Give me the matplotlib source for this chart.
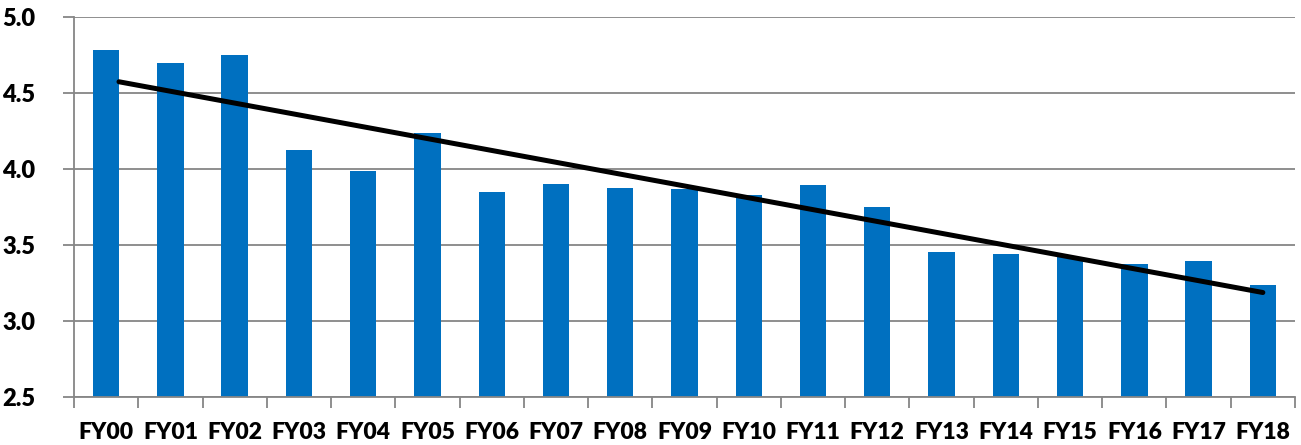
import numpy as np
import matplotlib
matplotlib.use("Agg")
import matplotlib.pyplot as plt

years = ["FY00", "FY01", "FY02", "FY03", "FY04", "FY05", "FY06", "FY07", "FY08", "FY09",
         "FY10", "FY11", "FY12", "FY13", "FY14", "FY15", "FY16", "FY17", "FY18"]
values = [4.78, 4.70, 4.75, 4.125, 3.99, 4.24, 3.85, 3.90, 3.875, 3.87,
          3.83, 3.895, 3.75, 3.455, 3.44, 3.42, 3.375, 3.395, 3.24]
y_ticks = [2.5, 3.0, 3.5, 4.0, 4.5, 5.0]

plt.rcParams["font.family"] = ["Lato", "DejaVu Sans"]

fig = plt.figure(figsize=(13.01, 4.45), dpi=100)
ax = fig.add_axes([74 / 1301, 48 / 445, (1295 - 74) / 1301, (397 - 17) / 445])

x = np.arange(len(years))
ax.bar(x, values, width=0.41, color="#0070C0", zorder=2)

# linear trend through the series
slope, intercept = np.polyfit(x, values, 1)
xt = np.array([0.2, x[-1]])
ax.plot(xt, slope * xt + intercept, color="black", lw=3.6,
        solid_capstyle="round", zorder=3)

ax.set_xlim(-0.5, len(years) - 0.5)
ax.set_ylim(y_ticks[0], y_ticks[-1])

ax.set_yticks(y_ticks)
ax.set_yticklabels([f"{v:.1f}" for v in y_ticks], fontsize=17, fontweight="heavy")
ax.yaxis.grid(True, color="#868686", lw=1.3, zorder=0)
ax.set_axisbelow(True)

ax.set_xticks(np.arange(-0.5, len(years), 1.0))
ax.set_xticklabels([])
ax.set_xticks(x, minor=True)
ax.set_xticklabels(years, minor=True, fontsize=16.5, fontweight="heavy")
ax.tick_params(axis="x", which="major", length=8, width=1.3, color="#868686", direction="out")
ax.tick_params(axis="x", which="minor", length=0, pad=18)
ax.tick_params(axis="y", length=8, width=1.3, color="#868686", direction="out", pad=20)

for side in ["top", "right"]:
    ax.spines[side].set_visible(False)
for side in ["left", "bottom"]:
    ax.spines[side].set_color("#868686")
    ax.spines[side].set_linewidth(1.3)

fig.savefig("out.png", dpi=100, facecolor="white")
